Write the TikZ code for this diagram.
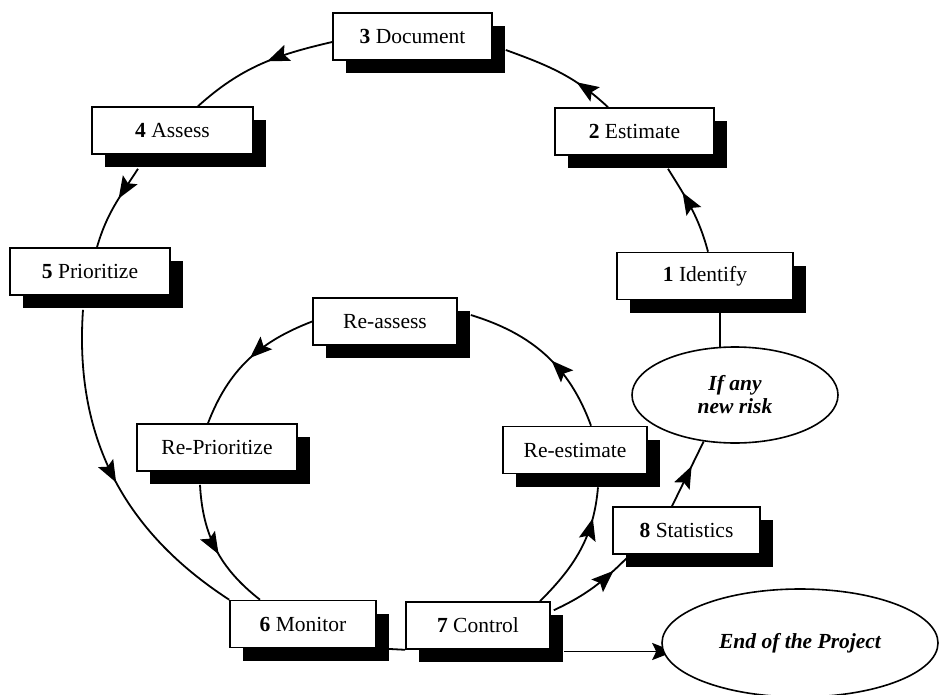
\documentclass[tikz,border=0pt]{standalone}
\usepackage{fontspec}
\setmainfont{Liberation Serif}
\usetikzlibrary{shadows,decorations.markings,arrows.meta,shapes.geometric,calc}
\pgfdeclarelayer{bg}
\pgfsetlayers{bg,main}
\begin{document}
\begin{tikzpicture}[x=1pt,y=1pt,
  box/.style={draw=black, line width=1.6pt, fill=white, minimum height=47pt, inner sep=0pt,
    font=\fontsize{21.5}{24}\selectfont,
    general shadow={fill=black, shadow xshift=13pt, shadow yshift=-13pt}},
  oval/.style={ellipse, draw=black, fill=white, line width=1.6pt, inner sep=0pt,
    font=\fontsize{21.5}{23}\selectfont\bfseries\itshape, align=center},
  conn/.style={line width=1.8pt},
  tipend/.style={-{Stealth[length=22pt,width=17pt,inset=4pt]}},
  midarrow/.style={postaction={decorate}, decoration={markings,
    mark=at position #1 with {\arrow{Stealth[length=22pt,width=17pt,inset=4pt]}}}},
]
\useasboundingbox (0,0) rectangle (939,-695);

% outer cycle boxes
\node[box, minimum width=159pt] (doc) at (412.5,-36.5) {\textbf{3} Document};
\node[box, minimum width=161pt] (ass) at (172.5,-130.5) {\textbf{4} Assess};
\node[box, minimum width=160pt] (pri) at (90,-271.5) {\textbf{5} Prioritize};
\node[box, minimum width=159pt] (est) at (634.5,-131.5) {\textbf{2} Estimate};
\node[box, minimum width=176pt] (ide) at (705,-276) {\textbf{1} Identify};
% inner cycle boxes
\node[box, minimum width=144pt] (rass) at (385,-321.5) {Re-assess};
\node[box, minimum width=160pt] (rpri) at (217,-447.5) {Re-Prioritize};
\node[box, minimum width=144pt] (rest) at (575,-450) {Re-estimate};
\node[box, minimum width=146pt] (mon) at (303,-624) {\textbf{6} Monitor};
\node[box, minimum width=144pt] (ctl) at (478,-625.5) {\textbf{7} Control};
\node[box, minimum width=147pt] (sta) at (686.5,-530.5) {\textbf{8} Statistics};
% ellipses
\node[oval, minimum width=206pt, minimum height=96pt] (risk) at (735,-395) {If any\\new risk};
\node[oval, minimum width=276pt, minimum height=108pt] (end) at (800,-643) {End of the Project};

\begin{pgfonlayer}{bg}
% outer cycle
\draw[conn, midarrow=0.70] ([xshift=3pt]ide.north) to[out=105,in=302] ([shift={(33.5,-13)}]est.south);
\draw[conn, midarrow=0.34] ([xshift=-26.5pt]est.north) to[out=137,in=340] ([shift={(13,-13.5)}]doc.east);
\draw[conn, midarrow=0.45] ([yshift=-5.5pt]doc.west) to[out=193,in=42] ([xshift=25.5pt]ass.north);
\draw[conn, midarrow=0.40] ([shift={(-34.5,-14)}]ass.south) to[out=237,in=74] ([xshift=7pt]pri.north);
\draw[conn, midarrow=0.52] ([shift={(-7,-14)}]pri.south) to[out=266,in=147] (mon.north west);
% inner cycle
\draw[conn, midarrow=0.76] ([xshift=62pt]ctl.north) to[out=45,in=265] ([shift={(23,-13)}]rest.south);
\draw[conn, midarrow=0.45] ([xshift=16pt]rest.north) to[out=110,in=343] ([shift={(13,6.5)}]rass.east);
\draw[conn, midarrow=0.48] (rass.west) to[out=201,in=69] ([xshift=-9pt]rpri.north);
\draw[conn, midarrow=0.54] ([shift={(-17,-13)}]rpri.south) to[out=273,in=142] ([xshift=-43pt]mon.north);
% other links
\draw[conn] (mon.south east) -- (ctl.south west);
\draw[conn, midarrow=0.78] ([shift={(3,-9)}]ctl.north east) to[out=25,in=225] ([shift={(-58.5,-2)}]sta.south);
\draw[conn, midarrow=0.62] ([xshift=-14.5pt]sta.north) -- (risk.236);
\draw[conn] ([shift={(15,-13)}]ide.south) -- ([shift={(15,-13)}]ide.south |- risk.center);
\draw[conn, tipend] ([shift={(13,-26)}]ctl.east) -- ([shift={(13,-26)}]ctl.east -| end.west);
\end{pgfonlayer}
\end{tikzpicture}
\end{document}
